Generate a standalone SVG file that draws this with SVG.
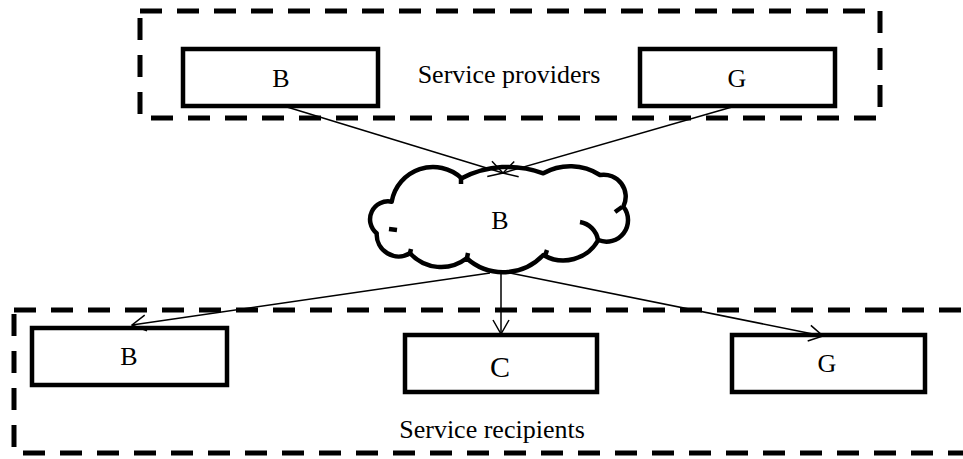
<svg xmlns="http://www.w3.org/2000/svg" width="963" height="459" viewBox="0 0 963 459">
<style>
.grp{fill:none;stroke:#000;stroke-width:5;stroke-dasharray:22 15}
.box{fill:#fff;stroke:#000;stroke-width:4.5}
.lbl{font-family:"Liberation Serif","Times New Roman",serif;font-size:26px;fill:#000;text-anchor:middle}
.cn{fill:none;stroke:#000;stroke-width:1.5}
.cloud{fill:#fff;stroke:#000;stroke-width:4.5;stroke-linejoin:round}
.inner{fill:none;stroke:#000;stroke-width:4.5}
</style>
<defs>
<marker id="ah" viewBox="0 0 16 18" refX="15" refY="9" markerWidth="16" markerHeight="18" markerUnits="userSpaceOnUse" orient="auto">
<path d="M1,1 L15,9 L1,17" fill="none" stroke="#000" stroke-width="1.5"/>
</marker>
</defs>
<g id="providers">
<rect class="grp" x="140" y="11" width="740" height="107"/>
<text class="lbl" x="509" y="83">Service providers</text>
</g>
<g id="recipients">
<rect class="grp" x="14" y="310" width="980" height="143"/>
<text class="lbl" x="492" y="438">Service recipients</text>
</g>
<g id="provider-B">
<rect class="box" x="183" y="49" width="195" height="57"/>
<text class="lbl" x="281" y="87">B</text>
</g>
<g id="provider-G">
<rect class="box" x="640" y="49" width="195" height="57"/>
<text class="lbl" x="737" y="87">G</text>
</g>
<g id="cloud-B">
<path class="cloud" d="M391.7,201.7 A42 42 0 0 1 461.7,178.3 A100 100 0 0 1 543.3,173.3 A55 55 0 0 1 600,175 A22 22 0 0 1 623.3,206.7 A21.5 21.5 0 0 1 598.3,240 A40 40 0 0 1 543.3,255 A55 55 0 0 1 466.7,258.3 A42 42 0 0 1 410,253.3 A22 22 0 0 1 376.7,233.3 A18 18 0 0 1 391.7,201.7 Z"/>
<path class="inner" d="M580,222 A22 22 0 0 1 598,240"/>
<path class="inner" d="M389,229 L397,230"/>
<path class="inner" d="M461,178 L461,184"/>
<path class="inner" d="M622,207 L615,212"/>
<path class="inner" d="M545,256 L547,250"/>
<path class="inner" d="M467,258 L468,253"/>
<path class="inner" d="M410,253 L411,249"/>
<text class="lbl" x="500" y="229">B</text>
</g>
<g id="recipient-B">
<rect class="box" x="32" y="328" width="195" height="57"/>
<text class="lbl" x="129" y="365">B</text>
</g>
<g id="recipient-C">
<rect class="box" x="405" y="335" width="192" height="57"/>
<text class="lbl" x="500" y="377" style="font-size:30px">C</text>
</g>
<g id="recipient-G">
<rect class="box" x="732" y="335" width="193" height="57"/>
<text class="lbl" x="827" y="372">G</text>
</g>
<g id="connectors">
<line class="cn" x1="287" y1="107" x2="503" y2="173" marker-end="url(#ah)"/>
<line class="cn" x1="732" y1="107" x2="503" y2="173" marker-end="url(#ah)"/>
<line class="cn" x1="490" y1="273" x2="132" y2="325" marker-end="url(#ah)"/>
<line class="cn" x1="501" y1="274" x2="501" y2="334" marker-end="url(#ah)"/>
<line class="cn" x1="510" y1="273" x2="823" y2="336" marker-end="url(#ah)"/>
</g>
</svg>
